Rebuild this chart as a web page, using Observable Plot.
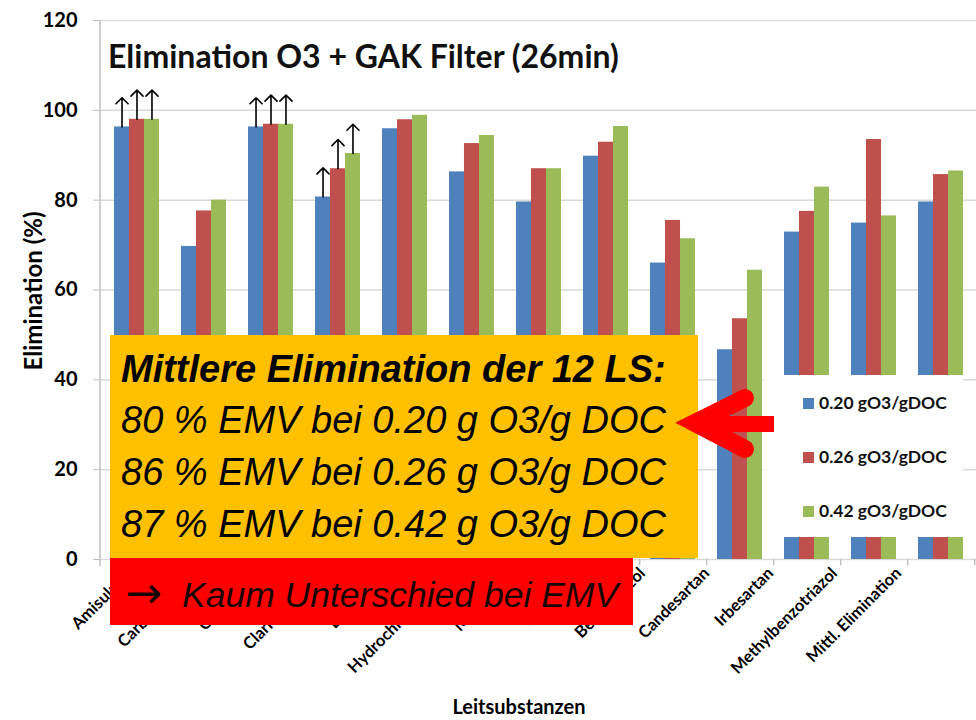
<!DOCTYPE html>
<html>
<head>
<meta charset="utf-8">
<script src="https://cdn.jsdelivr.net/npm/d3@7"></script>
<script src="https://cdn.jsdelivr.net/npm/@observablehq/plot@0.6"></script>
<style>
  body { margin: 0; background: #fff; }
  #wrap { position: relative; width: 976px; height: 720px; overflow: hidden; background: #fff; }
  #wrap > svg { position: absolute; left: 0; top: 0; }
</style>
</head>
<body>
<div id="wrap"></div>
<script>
// ---------- data ----------
const categories = ["Amisulprid", "Carbamazepin", "Citalopram", "Clarithromycin", "Diclofenac",
  "Hydrochlorothiazid", "Metoprolol", "Venlafaxin", "Benzotriazol", "Candesartan",
  "Irbesartan", "Methylbenzotriazol", "Mittl. Elimination"];
const series = ["0.20 gO3/gDOC", "0.26 gO3/gDOC", "0.42 gO3/gDOC"];
const v020 = [96.3, 69.7, 96.3, 80.7, 95.9, 86.3, 79.6, 89.8, 66.0, 46.7, 72.9, 74.9, 79.6];
const v026 = [98.0, 77.6, 96.9, 87.0, 97.9, 92.6, 87.0, 92.9, 75.5, 53.6, 77.5, 93.5, 85.7];
const v042 = [98.0, 80.0, 96.9, 90.4, 98.9, 94.4, 87.0, 96.4, 71.4, 64.4, 82.9, 76.5, 86.5];
const colors = ["#4F81BD", "#C0504D", "#9BBB59"];
const arrowCategories = ["Amisulprid", "Citalopram", "Clarithromycin"];
const yTicks = [0, 20, 40, 60, 80, 100, 120];
const title = "Elimination O3 + GAK Filter (26min)";
const yLabel = "Elimination (%)";
const xLabel = "Leitsubstanzen";
const boxHeading = "Mittlere Elimination der 12 LS:";
const meanValues = [80, 86, 87];
const doses = ["0.20", "0.26", "0.42"];
const conclusion = "Kaum Unterschied bei EMV";

// ---------- layout ----------
const W = 976, H = 720;
const mL = 100, mR = 0, mT = 20, mB = 161;
const step = (W - mL - mR) / categories.length;
const bw = step * (2 / 3);
const valuesBySeries = [v020, v026, v042];
const fontUI = "Lato, 'Open Sans', sans-serif";

const rows = categories.flatMap((c, i) =>
  series.map((s, j) => ({cat: c, series: s, j, value: valuesBySeries[j][i]})));

const barMarks = series.map((s, j) =>
  Plot.barY(rows.filter(r => r.j === j), {
    x: "cat", y: "value", fill: "series",
    insetLeft: j * bw / 3, insetRight: (2 - j) * bw / 3
  }));

const arrowRows = rows.filter(r => arrowCategories.includes(r.cat));
const arrowMarks = series.map((s, j) =>
  Plot.arrow(arrowRows.filter(r => r.j === j), {
    x1: "cat", x2: "cat", y1: "value", y2: d => d.value + 6.5,
    dx: (j - 1) * bw / 3, stroke: "black", strokeWidth: 1.6,
    headLength: 8, headAngle: 90
  }));

const chart = Plot.plot({
  width: W, height: H,
  marginLeft: mL, marginRight: mR, marginTop: mT, marginBottom: mB,
  x: {domain: categories, paddingInner: 1 / 3, paddingOuter: 1 / 6, axis: null},
  y: {domain: [0, 120]},
  color: {domain: series, range: colors},
  style: {fontFamily: fontUI, overflow: "visible", background: "white", color: "black"},
  marks: [
    Plot.ruleY(yTicks, {stroke: "#d9d9d9", strokeWidth: 1.5}),
    Plot.ruleX(categories, {x: d => d, y1: 0, y2: -1.4, dx: step / 2, stroke: "#bfbfbf", strokeWidth: 1.5}),
    ...barMarks,
    ...arrowMarks,
    Plot.axisY(yTicks, {tickSize: 7, tickPadding: 16, fontSize: 20, fontWeight: "bold",
      stroke: "#bfbfbf", fill: "black", label: null})
  ]
});

// category labels (the original's rotated labels are spaced slightly tighter than the bars)
const labelChart = Plot.plot({
  width: W, height: H,
  marginLeft: mL, marginRight: mR, marginTop: mT, marginBottom: mB,
  x: {type: "point", domain: categories, range: [128, 900], padding: 0},
  style: {fontFamily: fontUI, overflow: "visible", background: "transparent", color: "black"},
  marks: [
    Plot.axisX({tickRotate: -45, tickSize: 0, tickPadding: 11, fontSize: 16.5, fontWeight: "bold",
      fill: "black", label: null})
  ]
});

const wrap = document.getElementById("wrap");
wrap.appendChild(chart);
wrap.appendChild(labelChart);

// ---------- overlay annotations ----------
const svg = d3.select(wrap).append("svg")
  .attr("width", W).attr("height", H)
  .attr("font-family", fontUI);

// y axis line
svg.append("line").attr("x1", mL).attr("x2", mL).attr("y1", mT).attr("y2", H - mB + 7)
  .attr("stroke", "#bfbfbf").attr("stroke-width", 1.5);

// title
svg.append("text").attr("x", 108).attr("y", 68)
  .attr("font-size", 32).attr("font-weight", "bold").attr("fill", "#111").text(title);

// axis titles
svg.append("text").attr("transform", "translate(42,291) rotate(-90)")
  .attr("text-anchor", "middle").attr("font-size", 24).attr("font-weight", "bold").text(yLabel);
svg.append("text").attr("x", 519).attr("y", 714).attr("text-anchor", "middle")
  .attr("font-size", 20).attr("font-weight", "bold").text(xLabel);

// orange box
svg.append("rect").attr("x", 110).attr("y", 335).attr("width", 588).attr("height", 223).attr("fill", "#FFC000");
const boxFont = "'Liberation Sans', Arial, sans-serif";
svg.append("text").attr("x", 121).attr("y", 382)
  .attr("font-family", boxFont).attr("font-size", 38).attr("font-style", "italic").attr("font-weight", "bold")
  .attr("fill", "#000").text(boxHeading);
meanValues.forEach((m, i) => {
  svg.append("text").attr("x", 121).attr("y", 433 + i * 52)
    .attr("font-family", boxFont).attr("font-size", 38).attr("font-style", "italic")
    .attr("fill", "#000").text(`${m} % EMV bei ${doses[i]} g O3/g DOC`);
});

// red box
svg.append("rect").attr("x", 110).attr("y", 558).attr("width", 523).attr("height", 67).attr("fill", "#FF0000");
svg.append("text").attr("x", 125).attr("y", 608)
  .attr("font-family", "'DejaVu Sans', sans-serif").attr("font-size", 44)
  .attr("fill", "#1a0505").text("\u2192");
svg.append("text").attr("x", 182).attr("y", 607)
  .attr("font-family", boxFont).attr("font-size", 35.5).attr("font-style", "italic")
  .attr("fill", "#1a0505").text(conclusion);

// legend box
svg.append("rect").attr("x", 763).attr("y", 375).attr("width", 200).attr("height", 162).attr("fill", "#fff");
series.forEach((s, i) => {
  const cy = 403 + i * 54;
  svg.append("rect").attr("x", 803).attr("y", cy - 5).attr("width", 11).attr("height", 11).attr("fill", colors[i]);
  svg.append("text").attr("x", 819).attr("y", cy + 6).attr("font-size", 17.5).attr("font-weight", "bold")
    .attr("fill", "#111").text(s);
});

// big red arrow
svg.append("line").attr("x1", 700).attr("x2", 774).attr("y1", 424).attr("y2", 424)
  .attr("stroke", "#FF0000").attr("stroke-width", 16);
svg.append("path").attr("d", "M745,398 L695,423 L745,449")
  .attr("fill", "none").attr("stroke", "#FF0000").attr("stroke-width", 18)
  .attr("stroke-linecap", "round").attr("stroke-linejoin", "miter").attr("stroke-miterlimit", 6);
</script>
</body>
</html>
